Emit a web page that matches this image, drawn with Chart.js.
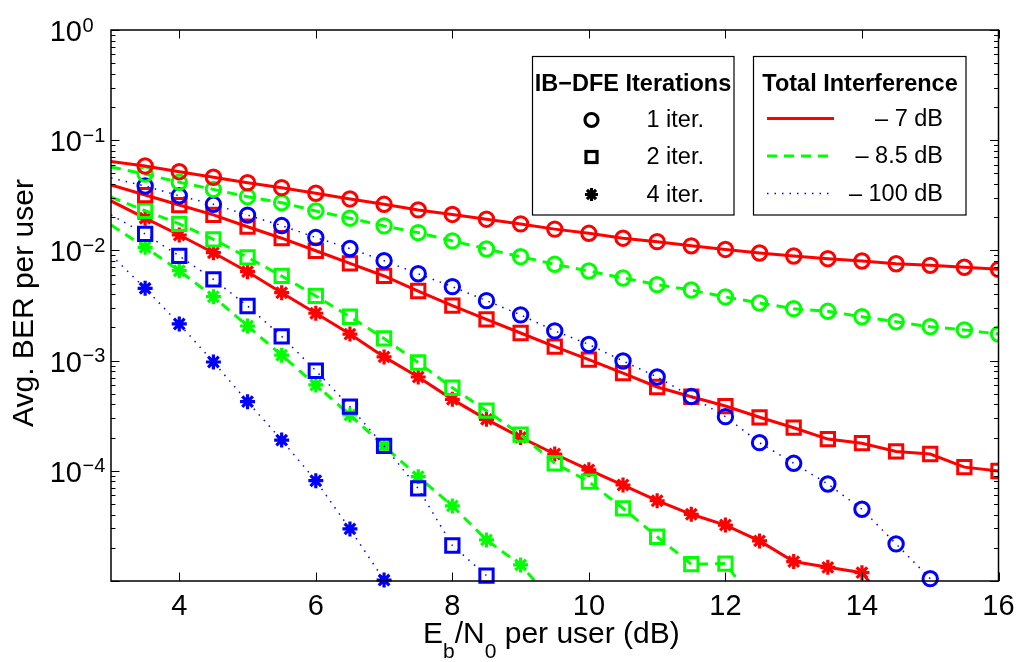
<!DOCTYPE html>
<html>
<head>
<meta charset="UTF-8">
<script src="https://cdn.jsdelivr.net/npm/chart.js@4/dist/chart.umd.min.js"></script>
<style>
  html, body { margin: 0; padding: 0; background: #fff; }
  #c { display: block; }
</style>
</head>
<body>
<canvas id="c" width="1018" height="662"></canvas>
<script>
// Eb/N0 (dB) – erster Punkt (3 dB) nur Linie, ohne Marker
const EBN0 = [3, 3.5, 4, 4.5, 5, 5.5, 6, 6.5, 7, 7.5, 8, 8.5, 9, 9.5, 10,
              10.5, 11, 11.5, 12, 12.5, 13, 13.5, 14, 14.5, 15, 15.5, 16];

// -7 dB (rot, durchgezogen)
const RED_IT1 = [0.0641, 0.0583, 0.0518, 0.0461, 0.0411, 0.0371, 0.0330, 0.0293, 0.0262, 0.0233, 0.0212, 0.0192, 0.0174, 0.0156,
                 0.0143, 0.0129, 0.0120, 0.0110, 0.0102, 0.00947, 0.00890, 0.00841, 0.00801, 0.00757, 0.00732, 0.00703, 0.00673];
const RED_IT2 = [0.0392, 0.0318, 0.0258, 0.0210, 0.0164, 0.0129, 0.00993, 0.00763, 0.00586, 0.00428, 0.00316, 0.00237, 0.00178, 0.00134,
                 0.00102, 0.000771, 0.000576, 0.000470, 0.000387, 0.000306, 0.000246, 0.000194, 0.000178, 0.000150, 0.000142, 0.000108, 0.0000996];
const RED_IT4 = [0.0281, 0.0196, 0.0138, 0.00953, 0.00641, 0.00413, 0.00269, 0.00174, 0.00108, 0.000710, 0.000445, 0.000293, 0.000201, 0.000142,
                 0.000102, 0.0000743, 0.0000535, 0.0000403, 0.0000322, 0.0000231, 0.0000150, 0.0000133, 0.0000119, 0.0000049, null, null, null];

// -8.5 dB (gruen, gestrichelt)
const GREEN_IT1 = [0.0571, 0.0493, 0.0415, 0.0358, 0.0307, 0.0271, 0.0228, 0.0196, 0.0167, 0.0145, 0.0122, 0.0103, 0.00877, 0.00748,
                   0.00650, 0.00562, 0.00489, 0.00437, 0.00378, 0.00333, 0.00296, 0.00280, 0.00250, 0.00225, 0.00203, 0.00190, 0.00174];
const GREEN_IT2 = [0.0305, 0.0229, 0.0174, 0.0126, 0.00866, 0.00586, 0.00386, 0.00250, 0.00159, 0.000961, 0.000567, 0.000351, 0.000213, 0.000117,
                   0.0000796, 0.0000457, 0.0000252, 0.0000142, 0.0000144, 0.0000056, null, null, null, null, null, null, null];
const GREEN_IT4 = [0.0170, 0.01067, 0.00654, 0.00380, 0.00206, 0.00112, 0.000601, 0.000321, 0.000168, 0.0000885, 0.0000480, 0.0000236, 0.0000140, 0.0000062,
                   null, null, null, null, null, null, null, null, null, null, null, null, null];

// -100 dB (blau, gepunktet)
const BLUE_IT1 = [0.0454, 0.0384, 0.0313, 0.0262, 0.0209, 0.0168, 0.0131, 0.0104, 0.00806, 0.00614, 0.00469, 0.00350, 0.00260, 0.00186,
                  0.00140, 0.000992, 0.000710, 0.000472, 0.000310, 0.000180, 0.000117, 0.0000759, 0.0000448, 0.0000217, 0.0000105, null, null];
const BLUE_IT2 = [0.0210, 0.0141, 0.00890, 0.00547, 0.00313, 0.00166, 0.000809, 0.000382, 0.000168, 0.0000693, 0.0000210, 0.0000112, null, null,
                  null, null, null, null, null, null, null, null, null, null, null, null, null];
const BLUE_IT4 = [0.00908, 0.00453, 0.00215, 0.000971, 0.000424, 0.000190, 0.0000813, 0.0000297, 0.0000102, null, null, null, null, null,
                  null, null, null, null, null, null, null, null, null, null, null, null, null];

const X_TICKS = [4, 6, 8, 10, 12, 14, 16];
const Y_TICK_EXP = [0, -1, -2, -3, -4];

const ITER_LABELS = ['1 iter.', '2 iter.', '4 iter.'];
const INTERF_LABELS = ['\u2013 7 dB', '\u2013 8.5 dB', '\u2013 100 dB'];

const FONT = '"Liberation Sans", Arial, Helvetica, sans-serif';
const RED = '#ff0000', GREEN = '#00ff00', BLUE = '#0000ff';
const DASH = { red: [], green: [10, 7], blue: [1.5, 6] };
const LW = { red: 3, green: 3, blue: 1.5 };

const pts = arr => EBN0.map((x, i) => ({ x, y: arr[i] })).filter(p => p.y != null);

function series(arr, color, key, style, clip) {
  const r = style === 'rect' ? 9.4 : (style === 'star' ? 7.5 : 7.2);
  return {
    data: pts(arr),
    borderColor: color,
    borderWidth: LW[key],
    borderDash: DASH[key],
    pointStyle: style,
    pointRadius: c => c.dataIndex === 0 ? 0 : r,
    pointBorderColor: color,
    pointBackgroundColor: 'rgba(0,0,0,0)',
    pointBorderWidth: style === 'star' ? 3.2 : 3,
    tension: 0,
    clip: clip ? undefined : false,
  };
}

const frame = {
  id: 'frame',
  afterDraw(chart) {
    const { ctx, chartArea: a, scales: { x, y } } = chart;
    ctx.save();
    ctx.strokeStyle = '#000';
    ctx.fillStyle = '#000';

    // Ticks (nach innen)
    ctx.lineWidth = 1;
    ctx.beginPath();
    X_TICKS.forEach(v => {
      const px = Math.round(x.getPixelForValue(v)) + 0.5;
      ctx.moveTo(px, a.bottom); ctx.lineTo(px, a.bottom - 8.5);
      ctx.moveTo(px, a.top); ctx.lineTo(px, a.top + 8.5);
    });
    for (let e = -5; e <= 0; e++) {
      const py = Math.round(y.getPixelForValue(Math.pow(10, e))) + 0.5;
      ctx.moveTo(a.left, py); ctx.lineTo(a.left + 8.5, py);
      ctx.moveTo(a.right, py); ctx.lineTo(a.right - 8.5, py);
      if (e < 0) {
        for (let k = 2; k <= 9; k++) {
          const pm = Math.round(y.getPixelForValue(k * Math.pow(10, e))) + 0.5;
          ctx.moveTo(a.left, pm); ctx.lineTo(a.left + 4.5, pm);
          ctx.moveTo(a.right, pm); ctx.lineTo(a.right - 4.5, pm);
        }
      }
    }
    ctx.stroke();

    // Achsenrahmen
    ctx.lineWidth = 1.5;
    ctx.strokeRect(a.left, a.top, a.right - a.left, a.bottom - a.top);

    // x-Beschriftung
    ctx.font = '29px ' + FONT;
    ctx.textAlign = 'center';
    ctx.textBaseline = 'alphabetic';
    X_TICKS.forEach(v => ctx.fillText(String(v), x.getPixelForValue(v), 615));

    // y-Beschriftung 10^n
    Y_TICK_EXP.forEach(e => {
      const py = y.getPixelForValue(Math.pow(10, e));
      ctx.font = '29px ' + FONT;
      ctx.textAlign = 'right';
      ctx.fillText('10', 82, py + 11);
      ctx.font = '20px ' + FONT;
      ctx.textAlign = 'left';
      ctx.fillText(e === 0 ? '0' : '\u2212' + (-e), 82.5, py + 1.5);
    });

    // Achsentitel
    let cx = 423;
    const part = (t, size, base) => {
      ctx.font = size + 'px ' + FONT;
      ctx.fillText(t, cx, base);
      cx += ctx.measureText(t).width;
    };
    ctx.textAlign = 'left';
    part('E', 30, 643);
    part('b', 21, 658);
    part('/N', 30, 643);
    part('0', 21, 658);
    part(' per user (dB)', 30, 643);

    ctx.save();
    ctx.translate(33, 303);
    ctx.rotate(-Math.PI / 2);
    ctx.font = '30px ' + FONT;
    ctx.textAlign = 'center';
    ctx.fillText('Avg. BER per user', 0, 0);
    ctx.restore();

    // Legendenkaesten
    const rows = [120, 157, 194.5];
    ctx.fillStyle = '#fff';
    ctx.fillRect(532.5, 56.5, 201.5, 158.5);
    ctx.fillRect(753.5, 56.5, 212.5, 158.5);
    ctx.lineWidth = 1.2;
    ctx.strokeStyle = '#000';
    ctx.strokeRect(532.5, 56.5, 201.5, 158.5);
    ctx.strokeRect(753.5, 56.5, 212.5, 158.5);

    ctx.fillStyle = '#000';
    ctx.textAlign = 'center';
    ctx.textBaseline = 'middle';
    ctx.font = 'bold 23.5px ' + FONT;
    ctx.fillText('IB\u2212DFE Iterations', 633, 85);
    ctx.fillText('Total Interference', 860, 85);

    // Legende 1: Iterationen
    ctx.font = '23.5px ' + FONT;
    ctx.textAlign = 'left';
    ITER_LABELS.forEach((t, i) => ctx.fillText(t, 646.5, rows[i] + 1));

    const mx = 591.5;
    ctx.lineWidth = 3.2;
    ctx.beginPath();
    ctx.arc(mx, rows[0], 6.5, 0, Math.PI * 2);
    ctx.stroke();
    ctx.strokeRect(mx - 5.5, rows[1] - 5.5, 11, 11);
    ctx.beginPath();
    const s = 6.5, d = s * Math.SQRT1_2;
    ctx.moveTo(mx - s, rows[2]); ctx.lineTo(mx + s, rows[2]);
    ctx.moveTo(mx, rows[2] - s); ctx.lineTo(mx, rows[2] + s);
    ctx.moveTo(mx - d, rows[2] - d); ctx.lineTo(mx + d, rows[2] + d);
    ctx.moveTo(mx - d, rows[2] + d); ctx.lineTo(mx + d, rows[2] - d);
    ctx.stroke();

    // Legende 2: Interferenz
    const lines = [[RED, 'red', 118.5], [GREEN, 'green', 156], [BLUE, 'blue', 193.5]];
    lines.forEach(([col, key, ly]) => {
      ctx.strokeStyle = col;
      ctx.lineWidth = LW[key];
      ctx.setLineDash(DASH[key]);
      ctx.beginPath();
      ctx.moveTo(767, ly); ctx.lineTo(834, ly);
      ctx.stroke();
    });
    ctx.setLineDash([]);
    ctx.textAlign = 'right';
    INTERF_LABELS.forEach((t, i) => ctx.fillText(t, 943, lines[i][2] + 1));

    ctx.restore();
  }
};

new Chart(document.getElementById('c'), {
  type: 'line',
  data: {
    datasets: [
      series(RED_IT1, RED, 'red', 'circle', true),
      series(GREEN_IT1, GREEN, 'green', 'circle', true),
      series(BLUE_IT1, BLUE, 'blue', 'circle', false),
      series(RED_IT2, RED, 'red', 'rect', true),
      series(GREEN_IT2, GREEN, 'green', 'rect', true),
      series(BLUE_IT2, BLUE, 'blue', 'rect', false),
      series(RED_IT4, RED, 'red', 'star', true),
      series(GREEN_IT4, GREEN, 'green', 'star', true),
      series(BLUE_IT4, BLUE, 'blue', 'star', false),
    ]
  },
  options: {
    responsive: false,
    animation: false,
    devicePixelRatio: 1,
    layout: { padding: { left: 111, right: 19.5, top: 30, bottom: 81 } },
    plugins: { legend: { display: false }, tooltip: { enabled: false } },
    scales: {
      x: { type: 'linear', min: 3, max: 16, display: false },
      y: { type: 'logarithmic', min: 1e-5, max: 1, display: false }
    }
  },
  plugins: [frame]
});
</script>
</body>
</html>
